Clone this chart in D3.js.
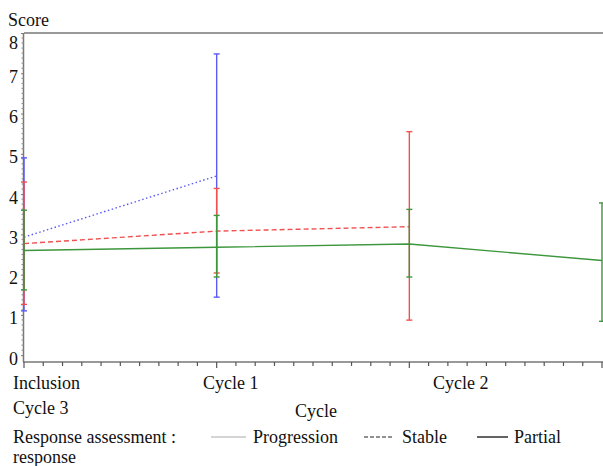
<!DOCTYPE html>
<html>
<head>
<meta charset="utf-8">
<script src="https://cdn.jsdelivr.net/npm/d3@7"></script>
<style>
  body { margin: 0; background: #fff; }
</style>
</head>
<body>
<svg id="chart" width="603" height="466"></svg>
<script>
// cycles on the x axis
const cycles = ['Inclusion', 'Cycle 1', 'Cycle 2', 'Cycle 3']
const yTicks = [0, 1, 2, 3, 4, 5, 6, 7, 8]

// mean score and error bar limits per response group (null = no data)
const progressionMean = [2.93, 4.45, null, null]
const progressionLow = [1.1, 1.44, null, null]
const progressionHigh = [4.9, 7.48, null, null]

const stableMean = [2.77, 3.08, 3.19, null]
const stableLow = [1.26, 2.04, 0.87, null]
const stableHigh = [4.3, 4.14, 5.55, null]

const partialMean = [2.6, 2.68, 2.76, 2.35]
const partialLow = [1.62, 1.94, 1.94, 0.84]
const partialHigh = [3.6, 3.47, 3.62, 3.78]

const FONT = 'Liberation Serif'

const svg = d3.select('#chart')
const plotLeft = 24, plotTop = 33, plotRight = 602, plotBottom = 362

const x = d3.scaleLinear().domain([0, 3]).range([plotLeft, plotRight])
const y = d3.scaleLinear().domain([-0.17, 8]).range([plotBottom, plotTop])

const addText = (tx, ty, str, anchor) => svg.append('text')
  .attr('x', tx).attr('y', ty)
  .style('font-family', FONT).attr('font-size', 18).attr('fill', '#111')
  .attr('text-anchor', anchor || 'start')
  .text(str)

// frame top line
svg.append('line')
  .attr('x1', plotLeft).attr('x2', 603).attr('y1', plotTop).attr('y2', plotTop)
  .attr('stroke', '#777').attr('stroke-width', 1.5)

// y axis
const yAxis = d3.axisLeft(y).tickValues(yTicks).tickSize(3).tickFormat(d3.format('d'))
const gy = svg.append('g').attr('transform', `translate(${plotLeft},0)`).call(yAxis)
gy.attr('font-family', null).attr('font-size', null)
gy.select('.domain').attr('stroke', '#777').attr('stroke-width', 1.5).attr('d', `M-0.5,${plotTop}V${plotBottom}`)
gy.selectAll('.tick line').attr('stroke', '#777')
gy.selectAll('.tick text')
  .attr('x', -6).attr('dy', d => d === 8 ? '0.85em' : '0.5em').attr('fill', '#111')
  .style('font-family', FONT).attr('font-size', 18)
d3.range(0, 8, 0.125).forEach(v => {
  if (v % 1 === 0) return
  svg.append('line').attr('x1', plotLeft - 2.5).attr('x2', plotLeft).attr('y1', y(v)).attr('y2', y(v))
    .attr('stroke', '#888').attr('stroke-width', 1)
})

// x axis with minor ticks
svg.append('line').attr('x1', plotLeft - 1).attr('x2', 603).attr('y1', plotBottom).attr('y2', plotBottom)
  .attr('stroke', '#777').attr('stroke-width', 1.5)
d3.range(0, 3.001, 0.1).forEach(v => {
  const major = Math.abs(v - Math.round(v)) < 1e-6
  svg.append('line').attr('x1', x(v)).attr('x2', x(v))
    .attr('y1', plotBottom).attr('y2', plotBottom + (major ? 6 : 4))
    .attr('stroke', '#555').attr('stroke-width', 1.2)
})

// x tick labels (wrapped the way the original output flows them)
const labelSpots = [[13, 389], [203, 389], [433, 389], [13, 414]]
cycles.forEach((c, i) => addText(labelSpots[i][0], labelSpots[i][1], c))

addText(316, 417, 'Cycle', 'middle')
addText(8, 26, 'Score')

// series
const series = [
  { name: 'Progression', color: '#5a5af5', dash: '1.5,2.5', mean: progressionMean, low: progressionLow, high: progressionHigh },
  { name: 'Stable', color: '#f05050', dash: '5,3', mean: stableMean, low: stableLow, high: stableHigh },
  { name: 'Partial', color: '#3c963c', dash: null, mean: partialMean, low: partialLow, high: partialHigh }
]

const line = d3.line()
  .defined(d => d.v !== null)
  .x(d => x(d.i)).y(d => y(d.v))

series.forEach(s => {
  const g = svg.append('g')
  const pts = s.mean.map((v, i) => ({ i, v }))
  g.append('path').datum(pts)
    .attr('d', line)
    .attr('fill', 'none')
    .attr('stroke', s.color)
    .attr('stroke-width', 1.4)
    .attr('stroke-dasharray', s.dash)
  s.mean.forEach((m, i) => {
    if (m === null) return
    const cx = x(i)
    g.append('line').attr('x1', cx).attr('x2', cx)
      .attr('y1', y(s.low[i])).attr('y2', y(s.high[i]))
      .attr('stroke', s.color).attr('stroke-width', 1.4)
    ;[s.low[i], s.high[i]].forEach(v => {
      g.append('line').attr('x1', cx - 3).attr('x2', cx + 3)
        .attr('y1', y(v)).attr('y2', y(v))
        .attr('stroke', s.color).attr('stroke-width', 1.4)
    })
  })
})

// legend
addText(13, 443, 'Response assessment :')
addText(13, 463, 'response')
const legendSpots = [[211, 246, 253], [364, 394, 402], [477, 508, 514]]
const legendStyles = [
  { stroke: '#aaa', width: 1, dash: null },
  { stroke: '#222', width: 1.2, dash: '4,2' },
  { stroke: '#222', width: 1.4, dash: null }
]
series.forEach((s, i) => {
  const [x1, x2, tx] = legendSpots[i]
  svg.append('line').attr('x1', x1).attr('x2', x2).attr('y1', 437).attr('y2', 437)
    .attr('stroke', legendStyles[i].stroke).attr('stroke-width', legendStyles[i].width)
    .attr('stroke-dasharray', legendStyles[i].dash)
  addText(tx, 443, s.name)
})
</script>
</body>
</html>
